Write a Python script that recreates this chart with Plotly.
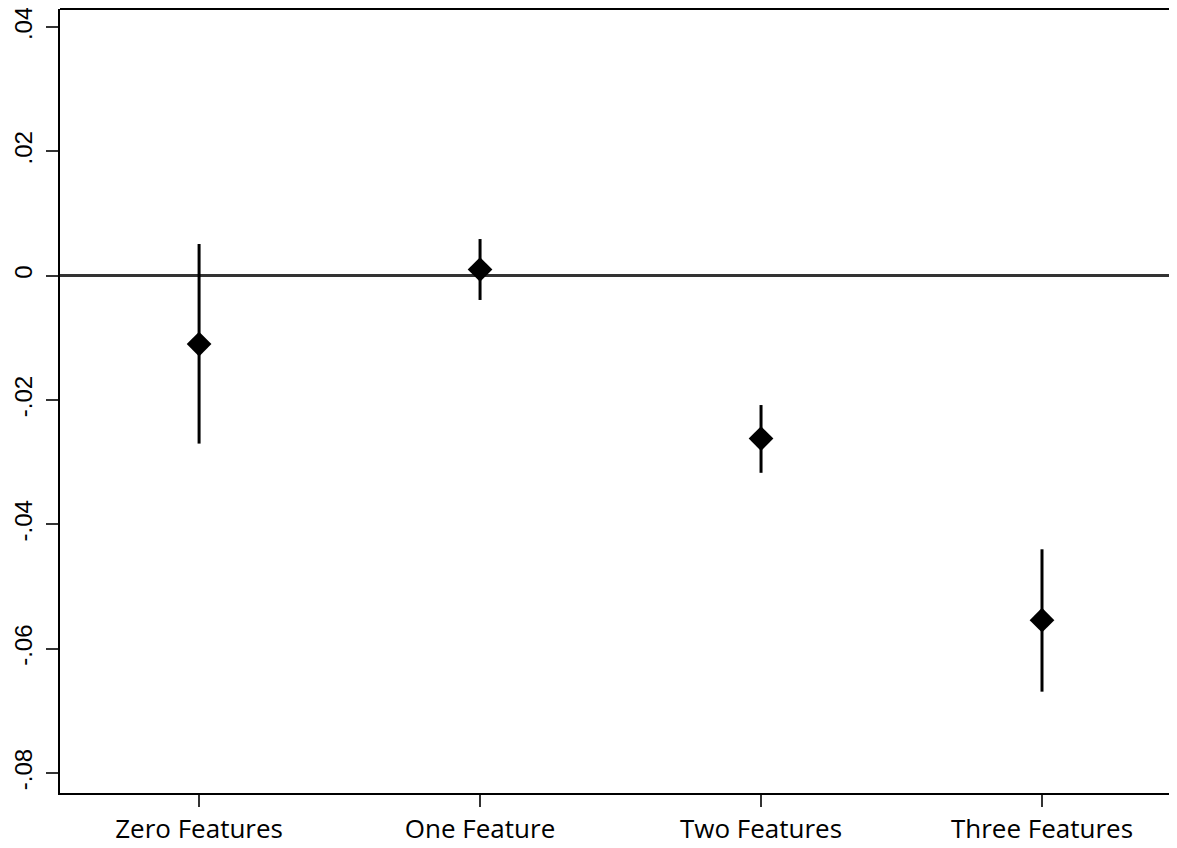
import plotly.graph_objects as go

categories = ["Zero Features", "One Feature", "Two Features", "Three Features"]
x_pos = [1, 2, 3, 4]
estimates = [-0.0110, 0.0010, -0.0262, -0.0554]
ci_upper = [0.0051, 0.0059, -0.0208, -0.0440]
ci_lower = [-0.0270, -0.0039, -0.0317, -0.0669]

y_tickvals = [0.04, 0.02, 0.0, -0.02, -0.04, -0.06, -0.08]
y_ticktext = [".04", ".02", "0", "-.02", "-.04", "-.06", "-.08"]

err_plus = [u - e for u, e in zip(ci_upper, estimates)]
err_minus = [e - l for e, l in zip(estimates, ci_lower)]

fig = go.Figure()
fig.add_trace(go.Scatter(
    x=x_pos, y=estimates, mode="markers",
    marker=dict(symbol="diamond", size=19, color="black"),
    error_y=dict(type="data", symmetric=False, array=err_plus, arrayminus=err_minus,
                 width=0, thickness=3, color="black"),
    showlegend=False,
))

fig.add_shape(type="line", xref="paper", yref="paper", x0=0, x1=1, y0=1, y1=1,
              line=dict(color="black", width=2))

fig.update_layout(
    width=1161, height=840,
    margin=dict(l=52, r=0, t=1, b=55),
    plot_bgcolor="white", paper_bgcolor="white",
    xaxis=dict(
        range=[0.505, 4.452], tickvals=x_pos, ticktext=categories,
        showgrid=False, zeroline=False, showline=True, linecolor="black", linewidth=2,
        ticks="outside", ticklen=12, tickwidth=2, tickcolor="#333",
        tickfont=dict(family="Open Sans", size=26, color="black"),
        automargin=False,
    ),
    yaxis=dict(
        range=[-0.0832, 0.0429], tickvals=y_tickvals, ticktext=y_ticktext,
        showgrid=False, zeroline=True, zerolinecolor="#333", zerolinewidth=2.5,
        showline=True, linecolor="black", linewidth=2,
        ticks="outside", ticklen=12, tickwidth=2, tickcolor="#333",
        tickangle=-90, ticklabelstandoff=4, ticklabeloverflow="allow",
        tickfont=dict(family="Liberation Sans", size=24, color="black"),
        automargin=False,
    ),
)

fig.write_html("out.html")
